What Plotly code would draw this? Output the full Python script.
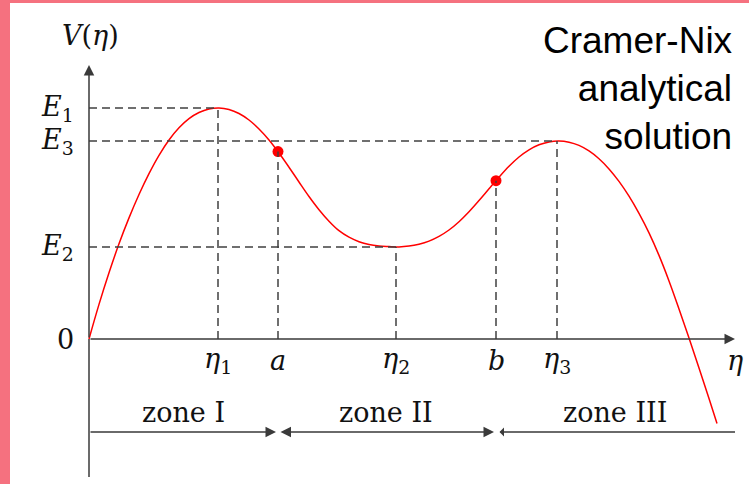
import plotly.graph_objects as go

# ---- data (η, V) ----
curve_eta = [0.0, 0.1, 0.2, 0.3, 0.4, 0.5, 0.6, 0.7, 0.8, 0.9, 1.0, 1.1, 1.2, 1.3,
             1.4, 1.5, 1.6, 1.7, 1.8, 1.9, 2.0, 2.1, 2.2, 2.3, 2.4, 2.5, 2.6, 2.7, 2.8, 2.9, 3.0, 3.1,
             3.2, 3.3, 3.4, 3.5, 3.6, 3.7, 3.8, 3.9, 4.0, 4.1, 4.2, 4.3, 4.4, 4.5, 4.6, 4.7,
             4.8, 4.9, 5.0, 5.1, 5.2, 5.3, 5.4, 5.5, 5.6, 5.7, 5.8, 5.9, 6.0, 6.1, 6.2, 6.28]
curve_V = [0.000, 0.346, 0.662, 0.952, 1.211, 1.445, 1.654, 1.837, 1.990, 2.112, 2.204, 2.265,
           2.300, 2.310,
           2.295, 2.255, 2.190, 2.100, 1.990, 1.860, 1.718, 1.570, 1.425, 1.293, 1.178, 1.083,
           1.018, 0.973, 0.945, 0.931, 0.925, 0.921,
           0.929, 0.948, 0.979, 1.026, 1.090, 1.173, 1.273, 1.385, 1.502, 1.618, 1.727, 1.820,
           1.892, 1.942, 1.971, 1.980,
           1.968, 1.936, 1.881, 1.803, 1.701, 1.576, 1.428, 1.256, 1.061, 0.836, 0.581, 0.301,
           0.009, -0.291, -0.596, -0.844]

point_names = ["a", "b"]
point_eta = [1.89, 4.07]
point_V = [1.874, 1.583]

level_names = ["E<sub>1</sub>", "E<sub>3</sub>", "E<sub>2</sub>"]
level_V = [2.31, 1.98, 0.92]
level_eta = [1.29, 4.68, 3.07]   # where each horizontal guide ends

tick_names = ["η<sub>1</sub>", "a", "η<sub>2</sub>", "b", "η<sub>3</sub>"]
tick_eta = [1.29, 1.89, 3.07, 4.07, 4.68]
tick_V = [2.31, 1.874, 0.92, 1.583, 1.98]

zone_names = ["zone I", "zone II", "zone III"]
zone_start = [0.00, 1.90, 4.09]
zone_end = [1.87, 4.05, 6.46]
zone_center = [0.94, 2.97, 5.26]

X_RANGE = [-0.89, 6.60]
Y_RANGE = [-1.45, 3.39]
X_AXIS_END = 6.46
Y_AXIS_TOP = 2.74
Y_AXIS_BOTTOM = -1.38
ZONE_Y = -0.93

AX_COL = "#3a3a3a"
DASH_COL = "#404040"
SERIF = "DejaVu Serif"

fig = go.Figure()

# dashed guides
for v, e in zip(level_V, level_eta):
    fig.add_shape(type="line", x0=0, x1=e, y0=v, y1=v, xref="x", yref="y",
                  line=dict(color=DASH_COL, width=1.5, dash="8px,5px"))
for e, v in zip(tick_eta, tick_V):
    fig.add_shape(type="line", x0=e, x1=e, y0=0, y1=v, xref="x", yref="y",
                  line=dict(color=DASH_COL, width=1.5, dash="8px,5px"))

# curve
fig.add_trace(go.Scatter(x=curve_eta, y=curve_V, mode="lines",
                         line=dict(color="#ff0000", width=1.5, shape="spline", smoothing=1.0),
                         hoverinfo="skip", showlegend=False))
fig.add_trace(go.Scatter(x=point_eta, y=point_V, mode="markers",
                         marker=dict(color="#ff0000", size=11),
                         hoverinfo="skip", showlegend=False))

# axes (lines with arrow heads)
fig.add_shape(type="line", x0=0, x1=0, y0=Y_AXIS_BOTTOM, y1=0, xref="x", yref="y",
              line=dict(color=AX_COL, width=1.5))
fig.add_annotation(x=0, y=Y_AXIS_TOP, ax=0, ay=0, xref="x", yref="y", axref="x", ayref="y",
                   showarrow=True, arrowhead=2, arrowsize=1.4, arrowwidth=1.5, arrowcolor=AX_COL,
                   standoff=0, text="")
fig.add_annotation(x=X_AXIS_END, y=0, ax=0, ay=0, xref="x", yref="y", axref="x", ayref="y",
                   showarrow=True, arrowhead=2, arrowsize=1.4, arrowwidth=1.5, arrowcolor=AX_COL,
                   standoff=0, text="")

# zone arrows
fig.add_annotation(x=zone_end[0], y=ZONE_Y, ax=zone_start[0], ay=ZONE_Y, xref="x", yref="y",
                   axref="x", ayref="y", showarrow=True, arrowhead=2, arrowsize=1.4,
                   arrowwidth=1.5, arrowcolor=AX_COL, standoff=0, text="")
fig.add_annotation(x=zone_end[1], y=ZONE_Y, ax=zone_start[1], ay=ZONE_Y, xref="x", yref="y",
                   axref="x", ayref="y", showarrow=True, arrowhead=2, arrowsize=1.4,
                   arrowwidth=1.5, arrowcolor=AX_COL, arrowside="end+start", standoff=0,
                   startstandoff=0, text="")
fig.add_annotation(x=zone_end[2], y=ZONE_Y, ax=zone_start[2], ay=ZONE_Y, xref="x", yref="y",
                   axref="x", ayref="y", showarrow=True, arrowhead=2, arrowsize=1.4,
                   arrowwidth=1.5, arrowcolor=AX_COL, arrowside="start", startstandoff=0,
                   text="")

mathfont = dict(family=SERIF, size=27, color="#111111")

# axis titles
fig.add_annotation(x=0.01, y=3.04, xref="x", yref="y", text="<i>V</i>(<i>η</i>)",
                   showarrow=False, font=mathfont)
fig.add_annotation(x=6.46, y=-0.21, xref="x", yref="y", text="<i>η</i>",
                   showarrow=False, font=mathfont)

# y labels
for name, v in zip(level_names, level_V):
    fig.add_annotation(x=-0.13, y=v, xref="x", yref="y", text="<i>" + name[0] + "</i>" + name[1:],
                       xanchor="right", showarrow=False, font=mathfont)
fig.add_annotation(x=-0.13, y=0.0, xref="x", yref="y", text="0", xanchor="right",
                   showarrow=False, font=mathfont)

# x labels
for name, e in zip(tick_names, tick_eta):
    if name.startswith("η"):
        txt = "<i>η</i>" + name[1:]
    else:
        txt = "<i>" + name + "</i>"
    fig.add_annotation(x=e, y=-0.21, xref="x", yref="y", text=txt, showarrow=False,
                       font=mathfont)

# zone labels
for name, c in zip(zone_names, zone_center):
    fig.add_annotation(x=c, y=-0.73, xref="x", yref="y", text=name, showarrow=False,
                       font=dict(family=SERIF, size=27, color="#111111"))

# title text
fig.add_annotation(x=6.46, y=2.51, xref="x", yref="y",
                   text="Cramer-Nix<br>analytical<br>solution", showarrow=False,
                   xanchor="right", yanchor="middle", align="right",
                   font=dict(family="Liberation Sans", size=37, color="#000000"))

# pink frame
PINK = "#F5717F"
fig.add_shape(type="rect", xref="paper", yref="paper", x0=0, x1=10 / 749, y0=0, y1=1,
              fillcolor=PINK, line=dict(width=0), layer="above")
fig.add_shape(type="rect", xref="paper", yref="paper", x0=0, x1=1, y0=1 - 3 / 484, y1=1,
              fillcolor=PINK, line=dict(width=0), layer="above")

fig.update_layout(width=749, height=484, margin=dict(l=0, r=0, t=0, b=0),
                  paper_bgcolor="white", plot_bgcolor="white",
                  xaxis=dict(range=X_RANGE, visible=False, fixedrange=True),
                  yaxis=dict(range=Y_RANGE, visible=False, fixedrange=True),
                  showlegend=False)

fig.write_html("out.html")
